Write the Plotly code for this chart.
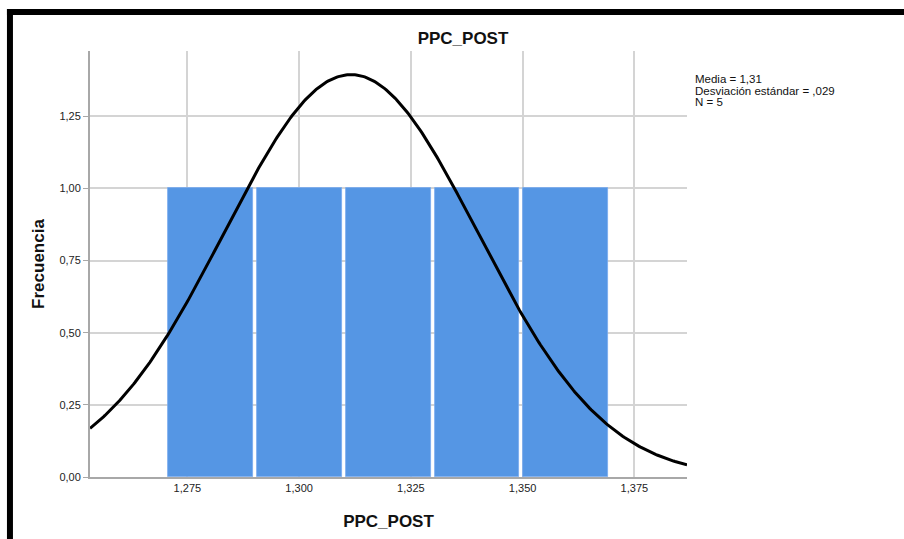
import numpy as np
import plotly.graph_objects as go

# Data
bin_left_edges = [1.2703, 1.29015, 1.31, 1.32985, 1.3497]
bin_width = 0.01985
counts = [1, 1, 1, 1, 1]
mean_val = 1.3116
sd_val = 0.0284
n_obs = 5
x_ticks = [1.275, 1.300, 1.325, 1.350, 1.375]
y_ticks = [0.0, 0.25, 0.5, 0.75, 1.0, 1.25]
stats_lines = ["Media = 1,31", "Desviación estándar = ,029", "N = 5"]

x_range = [1.25322, 1.38677]
y_range = [0, 1.476]

centers = [e + bin_width / 2 for e in bin_left_edges]
gap = 0.0009

xs = np.linspace(x_range[0], x_range[1], 400)
ys = n_obs * bin_width / (sd_val * np.sqrt(2 * np.pi)) * np.exp(-0.5 * ((xs - mean_val) / sd_val) ** 2)

fig = go.Figure()
fig.add_trace(go.Bar(
    x=centers, y=counts, width=[bin_width - gap] * len(centers),
    marker=dict(color="#5596e4", line=dict(color="#77aaee", width=0.8)),
    hoverinfo="skip", showlegend=False,
))
fig.add_trace(go.Scatter(
    x=xs, y=ys, mode="lines", line=dict(color="black", width=3),
    hoverinfo="skip", showlegend=False,
))

L, R, T, B = 90, 904 - 686.7, 51, 539 - 476.7
pw = 904 - L - R
ph = 539 - T - B

def px(xp):
    return (xp - L) / pw

def py(yp):
    return (539 - B - yp) / ph

shapes = [
    dict(type="line", xref="paper", yref="paper", x0=px(7), x1=px(910), y0=py(12), y1=py(12),
         line=dict(color="black", width=6)),
    dict(type="line", xref="paper", yref="paper", x0=px(10), x1=px(10), y0=py(9), y1=py(545),
         line=dict(color="black", width=6)),
]

annotations = []
for i, t in enumerate(stats_lines):
    annotations.append(dict(
        text=t, xref="paper", yref="paper", x=px(693), y=py(79 + i * 11.5),
        xanchor="left", yanchor="middle", showarrow=False,
        font=dict(family="Liberation Sans, Arial", size=11.5, color="#111"),
    ))

fig.update_layout(
    width=904, height=539,
    margin=dict(l=L, r=R, t=T, b=B, pad=0),
    paper_bgcolor="white", plot_bgcolor="white",
    separators=", ",
    bargap=0,
    title=dict(text="<b>PPC_POST</b>", x=463 / 904, xref="container", xanchor="center",
               y=1 - 38 / 539, yanchor="middle",
               font=dict(family="Liberation Sans, Arial", size=17, color="#111")),
    font=dict(family="Liberation Sans, Arial", size=11, color="#222"),
    shapes=shapes,
    annotations=annotations,
    xaxis=dict(
        range=x_range, tickvals=x_ticks, tickformat=".3f",
        showgrid=True, gridcolor="#d4d4d4", gridwidth=1.5,
        showline=True, linecolor="#a8a8a8", linewidth=2,
        ticks="", zeroline=False,
        tickfont=dict(size=11, color="#222"),
        title=dict(text="<b>PPC_POST</b>", font=dict(size=17, color="#111"), standoff=22),
    ),
    yaxis=dict(
        range=y_range, tickvals=y_ticks, tickformat=".2f",
        showgrid=True, gridcolor="#d4d4d4", gridwidth=1.5,
        showline=True, linecolor="#a8a8a8", linewidth=2,
        ticks="outside", ticklen=5, tickcolor="#a8a8a8", zeroline=False,
        tickfont=dict(size=11, color="#222"),
        title=dict(text="<b>Frecuencia</b>", font=dict(size=17, color="#111"), standoff=10),
    ),
)

fig.write_html("out.html")
